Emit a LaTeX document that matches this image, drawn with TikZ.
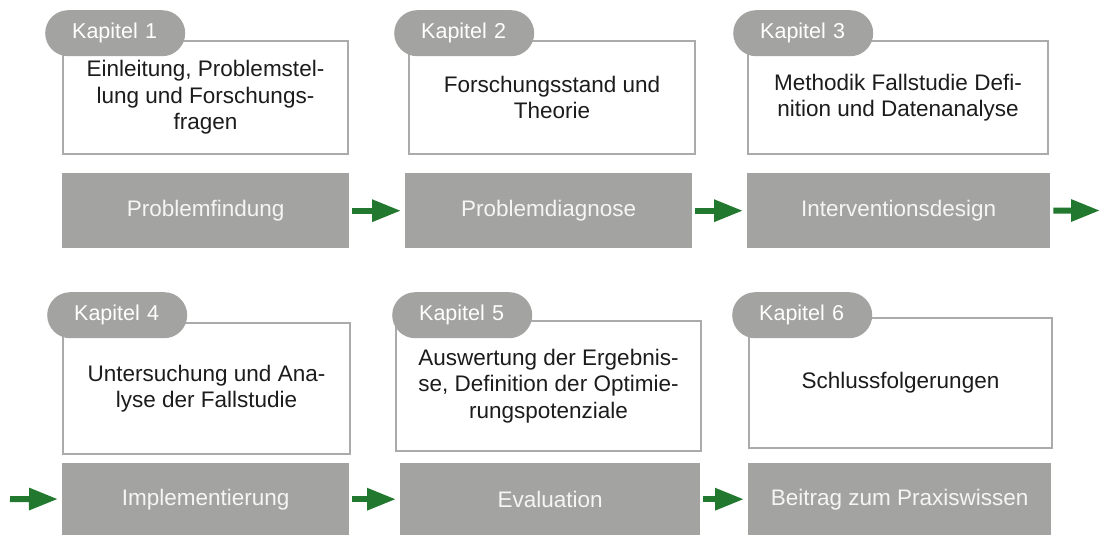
\documentclass[tikz,border=0pt]{standalone}
\usepackage{fontspec}
\setmainfont{Liberation Sans}
\usepackage{tikz}
\usetikzlibrary{calc,arrows.meta}
\definecolor{kap-grey}{HTML}{A3A3A2}
\definecolor{kap-rule}{HTML}{ABABAB}
\definecolor{kap-green}{HTML}{22782E}
\definecolor{kap-text}{HTML}{1C1C1C}

\begin{document}
\begin{tikzpicture}[x=1pt, y=-1pt,
    inhalt/.style={draw=kap-rule, line width=2pt, fill=white, anchor=north west, inner sep=0pt,
        align=center, text=kap-text, font=\fontsize{22.5}{26.5}\selectfont},
    kapitel/.style={fill=kap-grey, rounded corners=23pt, anchor=north west, minimum height=46pt,
        text width=86pt, inner xsep=27pt, inner ysep=0pt, align=left, text=white,
        font=\fontsize{21.5}{26}\selectfont},
    phase/.style={fill=kap-grey, anchor=north west, inner sep=0pt, text=white!96!black,
        font=\fontsize{22.5}{28}\selectfont},
    pfeil/.style={draw=kap-green, line width=6pt, -{Triangle[length=29pt,width=21pt]},
        shorten >=4pt, shorten <=3pt}]
    \useasboundingbox (0,0) rectangle (1100,535);

    % erste Reihe
    \node[inhalt, minimum width=285pt, minimum height=113pt] (inh1) at (62,40)
        {Einleitung, Problemstel-\\lung und Forschungs-\\fragen};
    \node[kapitel] (kap1) at (45,10) {Kapitel 1};
    \node[phase, minimum width=287pt, minimum height=75pt] (ph1) at (62,173) {Problemfindung};

    \node[inhalt, minimum width=286pt, minimum height=113pt] (inh2) at (408,40)
        {Forschungsstand und\\Theorie};
    \node[kapitel] (kap2) at (394,10) {Kapitel 2};
    \node[phase, minimum width=287pt, minimum height=75pt] (ph2) at (405,173) {Problemdiagnose};

    \node[inhalt, minimum width=300pt, minimum height=113pt] (inh3) at (747,40)
        {Methodik Fallstudie Defi-\\nition und Datenanalyse};
    \node[kapitel] (kap3) at (733,10) {Kapitel 3};
    \node[phase, minimum width=303pt, minimum height=75pt] (ph3) at (747,173) {Interventionsdesign};

    % zweite Reihe
    \node[inhalt, minimum width=287pt, minimum height=131pt] (inh4) at (62,322)
        {Untersuchung und Ana-\\lyse der Fallstudie};
    \node[kapitel] (kap4) at (47,292) {Kapitel 4};
    \node[phase, minimum width=287pt, minimum height=72pt] (ph4) at (62,463) {Implementierung};

    \node[inhalt, minimum width=305pt, minimum height=130pt] (inh5) at (395,320)
        {Auswertung der Ergebnis-\\se, Definition der Optimie-\\rungspotenziale};
    \node[kapitel] (kap5) at (392,292) {Kapitel 5};
    \node[phase, minimum width=300pt, minimum height=72pt] (ph5) at (400,463) {Evaluation};

    \node[inhalt, minimum width=303pt, minimum height=130pt] (inh6) at (748,317)
        {Schlussfolgerungen};
    \node[kapitel] (kap6) at (732,292) {Kapitel 6};
    \node[phase, minimum width=303pt, minimum height=72pt] (ph6) at (748,463) {Beitrag zum Praxiswissen};

    % Pfeile
    \coordinate (aus) at (1100,210.5);
    \coordinate (ein) at (10,499);
    \draw[pfeil] (ph1) -- (ph2);
    \draw[pfeil] (ph2) -- (ph3);
    \draw[pfeil, shorten >=0pt] (ph3) -- (aus);
    \draw[pfeil, shorten <=0pt] (ein) -- (ph4);
    \draw[pfeil] (ph4) -- (ph5);
    \draw[pfeil] (ph5) -- (ph6);
\end{tikzpicture}
\end{document}
